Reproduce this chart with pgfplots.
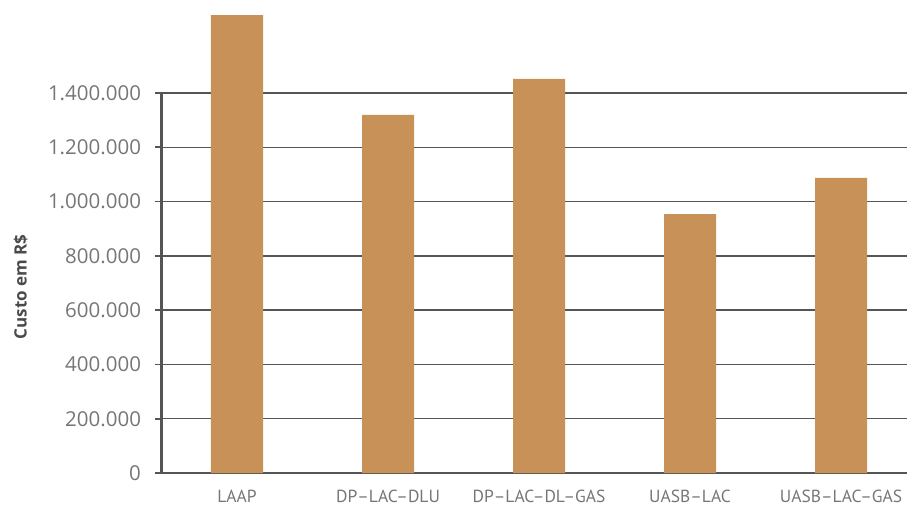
\documentclass[border=0pt]{standalone}
\usepackage{pgfplots}
\pgfplotsset{compat=1.18}
\usepackage{fontspec}
\setmainfont{Open Sans}
\newfontfamily\xfont{PT Sans}
\definecolor{barc}{HTML}{C79158}
\definecolor{axc}{HTML}{555555}
\definecolor{tickc}{HTML}{767676}
\definecolor{labc}{HTML}{4A4A4A}
\begin{document}
\begin{tikzpicture}
\path[use as bounding box] (-161.5pt,-33pt) rectangle (745.5pt,473pt);
\begin{axis}[
  scale only axis,
  width=745.5pt, height=380pt,
  xmin=-0.5, xmax=4.437,
  ymin=0, ymax=1400000,
  axis x line*=bottom, axis y line*=left,
  axis line style={axc, line width=2.4pt},
  ytick={0,200000,400000,600000,800000,1000000,1200000,1400000},
  yticklabels={0,200.000,400.000,600.000,800.000,1.000.000,1.200.000,1.400.000},
  scaled y ticks=false,
  yticklabel style={font=\fontsize{20.5}{23}\selectfont, text=tickc, xshift=-11pt},
  ymajorgrids,
  grid style={axc, line width=1.4pt},
  ytick style={axc, line width=1.6pt},
  major tick length=6pt,
  tick align=outside,
  xtick={0,1,2,3,4},
  xticklabels={LAAP, DP–LAC–DLU, DP–LAC–DL–GAS, UASB–LAC, UASB–LAC–GAS},
  xticklabel style={font=\xfont\fontsize{17.5}{20}\selectfont, text=tickc, yshift=-8pt},
  xtick style={draw=none},
  minor xtick={-0.5,0.5,1.5,2.5,3.5},
  minor tick length=7pt,
  minor x tick style={axc, line width=1.6pt},
  ylabel={Custo em R\$},
  every axis y label/.style={at={(axis description cs:-0.189,0.49)}, rotate=90, anchor=center, font=\bfseries\fontsize{17}{20}\selectfont, text=labc},
  clip=false,
]
\addplot[ybar, bar width=52pt, fill=barc, draw=none] coordinates {
  (0,1687000) (1,1319000) (2,1452000) (3,954000) (4,1087000)
};
\end{axis}
\end{tikzpicture}
\end{document}
